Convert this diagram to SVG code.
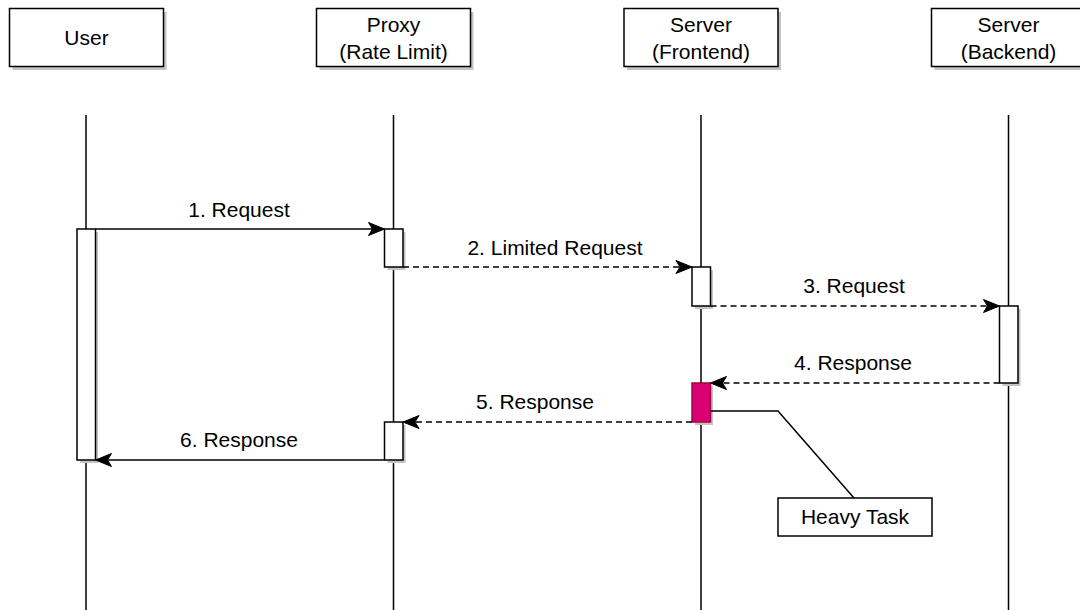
<svg xmlns="http://www.w3.org/2000/svg" width="1080" height="610" viewBox="0 0 1080 610">
<defs>
<style>
text{font-family:"Liberation Sans",Arial,sans-serif;font-size:21px;fill:#000;text-anchor:middle}
.box{fill:#fff;stroke:#000;stroke-width:1.5}
.sh{fill:#c4c4c4;stroke:none}
.life{stroke:#000;stroke-width:1.5;fill:none}
.msg{stroke:#000;stroke-width:1.5;fill:none}
.dash{stroke-dasharray:6 4}
</style>
<marker id="arr" viewBox="0 0 18 16" refX="17" refY="8" markerWidth="18" markerHeight="16" markerUnits="userSpaceOnUse" orient="auto">
<path d="M17,8 L1,1.5 L5,8 L1,14.5 Z" fill="#000" stroke="#000" stroke-width="1"/>
</marker>
</defs>
<rect width="1080" height="610" fill="#fff"/>
<g id="lifelines">
<line class="life" x1="86" y1="115" x2="86" y2="610"/>
<line class="life" x1="393.5" y1="115" x2="393.5" y2="610"/>
<line class="life" x1="701" y1="115" x2="701" y2="610"/>
<line class="life" x1="1008.5" y1="115" x2="1008.5" y2="610"/>
</g>
<g id="user">
<rect class="sh" x="12.5" y="12" width="154" height="58"/>
<rect class="box" x="9.5" y="8.5" width="154" height="58"/>
<text x="86.5" y="45">User</text>
</g>
<g id="proxy">
<rect class="sh" x="319.5" y="12" width="154" height="58"/>
<rect class="box" x="316.5" y="8.5" width="154" height="58"/>
<text x="393.5" y="32">Proxy</text>
<text x="393.5" y="59">(Rate Limit)</text>
</g>
<g id="frontend">
<rect class="sh" x="627" y="12" width="154" height="58"/>
<rect class="box" x="624" y="8.5" width="154" height="58"/>
<text x="701" y="32">Server</text>
<text x="701" y="59">(Frontend)</text>
</g>
<g id="backend">
<rect class="sh" x="934.5" y="12" width="154" height="58"/>
<rect class="box" x="931.5" y="8.5" width="154" height="58"/>
<text x="1008.5" y="32">Server</text>
<text x="1008.5" y="59">(Backend)</text>
</g>
<g id="activations">
<rect class="sh" x="80" y="232" width="18" height="231"/>
<rect class="box" x="77" y="229" width="18.5" height="231"/>
<rect class="sh" x="387.5" y="232" width="18" height="38"/>
<rect class="box" x="384.5" y="229" width="18.5" height="38"/>
<rect class="sh" x="695" y="270" width="18" height="39"/>
<rect class="box" x="692" y="267" width="18.5" height="39"/>
<rect class="sh" x="1002.5" y="309" width="18" height="77"/>
<rect class="box" x="999.5" y="306" width="18.5" height="77"/>
<rect class="sh" x="695" y="386" width="18" height="39"/>
<rect x="692" y="383" width="18.5" height="39" fill="#d80073" stroke="#a50040" stroke-width="1.5"/>
<rect class="sh" x="387.5" y="425" width="18" height="38"/>
<rect class="box" x="384.5" y="422" width="18.5" height="38"/>
</g>
<g id="connectors">
<line class="msg" x1="95.5" y1="229" x2="384.5" y2="229" marker-end="url(#arr)"/>
<line class="msg dash" x1="403" y1="267" x2="692" y2="267" marker-end="url(#arr)"/>
<line class="msg dash" x1="710.5" y1="306" x2="999.5" y2="306" marker-end="url(#arr)"/>
<line class="msg dash" x1="999.5" y1="383" x2="710.5" y2="383" marker-end="url(#arr)"/>
<line class="msg dash" x1="692" y1="422" x2="403" y2="422" marker-end="url(#arr)"/>
<line class="msg" x1="384.5" y1="460" x2="95.5" y2="460" marker-end="url(#arr)"/>
<polyline class="msg" points="710.5,411 778,411 854,498"/>
</g>
<g id="labels">
<text x="239" y="217">1. Request</text>
<text x="555" y="255">2. Limited Request</text>
<text x="854" y="293">3. Request</text>
<text x="853" y="370">4. Response</text>
<text x="535" y="409">5. Response</text>
<text x="239" y="447">6. Response</text>
</g>
<g id="heavy-task">
<rect class="box" x="778" y="498" width="154" height="38"/>
<text x="855" y="524">Heavy Task</text>
</g>
</svg>
